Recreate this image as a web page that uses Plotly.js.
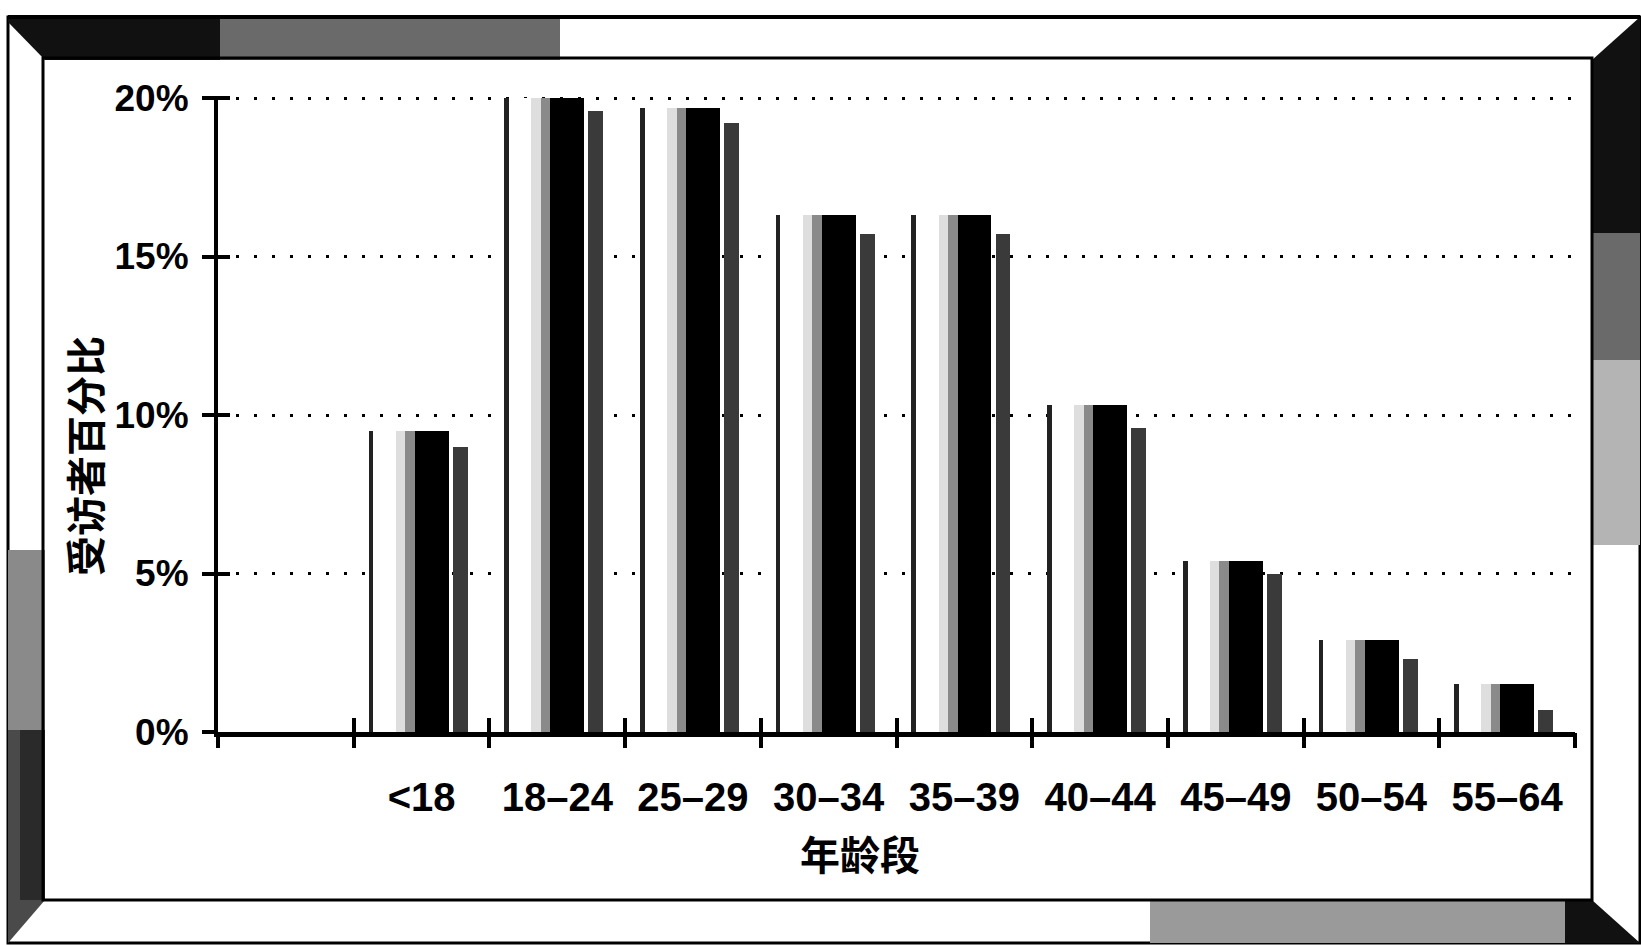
<!DOCTYPE html>
<html>
<head>
<meta charset="utf-8">
<script src="https://cdn.plot.ly/plotly-3.0.1.min.js"></script>
<style>
  html, body { margin: 0; padding: 0; background: #ffffff; }
  #chart { width: 1641px; height: 945px; }
</style>
</head>
<body>
<div id="chart"></div>
<script>
// ---- data ----
const categories = ['<18', '18–24', '25–29', '30–34', '35–39', '40–44', '45–49', '50–54', '55–64'];
const frontValues = [9.5, 20.0, 19.7, 16.3, 16.3, 10.3, 5.4, 2.9, 1.5];
const sideValues  = [9.0, 19.6, 19.2, 15.7, 15.7, 9.6, 5.0, 2.3, 0.7];
const yTickVals = [0, 5, 10, 15, 20];
const yTickText = ['0%', '5%', '10%', '15%', '20%'];
const xTitle = '年龄段';
const yTitle = '受访者百分比';

// ---- geometry ----
const W = 1641, H = 945;
const L = 218, R = 1575, T = 96, B = 732;
const yMax = 20.063;
const xIdx = categories.map((c, i) => i);
const xRange = [-1.5, categories.length - 0.5];
const boundaries = [];
for (let b = xRange[0]; b <= xRange[1] + 1e-9; b += 1) boundaries.push(b);

const px = v => (v - L) / (R - L);
const py = v => (B - v) / (B - T);

function rect(x0, y0, x1, y1, fill, lc, lw) {
  return {type: 'rect', xref: 'paper', yref: 'paper', layer: 'below',
    x0: px(x0), x1: px(x1), y0: py(y1), y1: py(y0),
    fillcolor: fill, line: {color: lc || fill, width: lw === undefined ? 0 : lw}};
}
function poly(pts, fill) {
  const d = pts.map((p, k) => (k ? 'L' : 'M') + px(p[0]).toFixed(5) + ',' + py(p[1]).toFixed(5)).join(' ') + ' Z';
  return {type: 'path', xref: 'paper', yref: 'paper', layer: 'below', path: d,
    fillcolor: fill, line: {width: 0}};
}

const shapes = [
  rect(8, 17, 1640, 943, '#ffffff', '#000000', 3),
  poly([[8, 17], [220, 17], [220, 60], [45, 60], [8, 22]], '#111111'),
  rect(220, 17, 560, 60, '#6a6a6a'),
  poly([[1592, 60], [1640, 17], [1640, 233], [1592, 233]], '#111111'),
  rect(1592, 233, 1640, 360, '#6a6a6a'),
  rect(1592, 360, 1640, 545, '#b4b4b4'),
  rect(1150, 900, 1565, 943, '#9a9a9a'),
  poly([[1565, 900], [1592, 900], [1640, 943], [1565, 943]], '#111111'),
  rect(8, 550, 45, 730, '#8a8a8a'),
  rect(20, 730, 45, 900, '#2a2a2a'),
  poly([[8, 730], [20, 730], [20, 900], [45, 900], [8, 943]], '#4a4a4a'),
  {type: 'rect', xref: 'paper', yref: 'paper', layer: 'below',
   x0: px(43), x1: px(1592), y0: py(900), y1: py(58),
   fillcolor: 'rgba(0,0,0,0)', line: {color: '#000000', width: 3}},
  {type: 'line', xref: 'paper', yref: 'paper', layer: 'below',
   x0: px(8), x1: px(1640), y0: py(17), y1: py(17), line: {color: '#000', width: 4}}
];

const tickFont = {family: 'Liberation Sans, Arial, sans-serif', size: 40, color: '#000000', weight: 'bold'};
const yFont = {family: 'Liberation Sans, Arial, sans-serif', size: 37, color: '#000000', weight: 'bold'};
const cjkFont = {family: 'Noto Sans CJK SC, sans-serif', size: 40, color: '#000000', weight: 'bold'};

function barTrace(values, offset, width, color) {
  return {type: 'bar', x: xIdx, y: values, offset: offset, width: width,
    marker: {color: color, line: {width: 0}}, hoverinfo: 'skip', showlegend: false};
}

const traces = [
  barTrace(frontValues, -0.38, 0.33, '#ffffff'),
  barTrace(frontValues, -0.19, 0.07, '#dedede'),
  barTrace(frontValues, -0.12, 0.08, '#8a8a8a'),
  barTrace(frontValues, -0.05, 0.25, '#000000'),
  barTrace(sideValues, 0.23, 0.11, '#3a3a3a'),
  barTrace(frontValues, -0.39, 0.035, '#222222'),
  {type: 'scatter', x: [], y: [], xaxis: 'x2', yaxis: 'y', showlegend: false, hoverinfo: 'skip'},
  {type: 'scatter', x: [], y: [], xaxis: 'x3', yaxis: 'y', showlegend: false, hoverinfo: 'skip'},
  {type: 'scatter', x: [], y: [], xaxis: 'x', yaxis: 'y2', showlegend: false, hoverinfo: 'skip'}
];

const layout = {
  width: W, height: H,
  margin: {l: L, r: W - R, t: T, b: H - B, pad: 0},
  paper_bgcolor: '#ffffff', plot_bgcolor: 'rgba(0,0,0,0)',
  barmode: 'overlay', bargap: 0,
  showlegend: false,
  xaxis: {
    range: xRange, tickmode: 'array', tickvals: xIdx, ticktext: categories,
    ticks: '', showgrid: false, zeroline: false,
    showline: true, linecolor: '#000000', linewidth: 5,
    tickfont: tickFont, ticklabelstandoff: 26, fixedrange: true
  },
  xaxis2: {
    overlaying: 'x', anchor: 'y', side: 'bottom', range: xRange,
    tickmode: 'array', tickvals: boundaries, ticks: 'outside', ticklen: 15, tickwidth: 4,
    tickcolor: '#000000', showticklabels: false, showgrid: false, zeroline: false, showline: false
  },
  xaxis3: {
    overlaying: 'x', anchor: 'y', side: 'bottom', range: xRange,
    tickmode: 'array', tickvals: boundaries, ticks: 'inside', ticklen: 14, tickwidth: 4,
    tickcolor: '#000000', showticklabels: false, showgrid: false, zeroline: false, showline: false
  },
  yaxis: {
    range: [0, yMax], tickmode: 'array', tickvals: yTickVals, ticktext: yTickText,
    ticks: 'outside', ticklen: 12, tickwidth: 4, tickcolor: '#000000',
    showline: true, linecolor: '#000000', linewidth: 4,
    showgrid: true, gridcolor: '#000000', gridwidth: 3, griddash: '3px,15px',
    zeroline: false, tickfont: yFont, ticklabelstandoff: 6, fixedrange: true
  },
  yaxis2: {
    overlaying: 'y', anchor: 'x', side: 'left', range: [0, yMax],
    tickmode: 'array', tickvals: yTickVals, ticks: 'inside', ticklen: 12, tickwidth: 4,
    tickcolor: '#000000', showticklabels: false, showgrid: false, zeroline: false, showline: false
  },
  annotations: [
    {text: yTitle, xref: 'paper', yref: 'paper', x: px(84), y: py(456),
     xanchor: 'center', yanchor: 'middle', textangle: -90, showarrow: false, font: cjkFont},
    {text: xTitle, xref: 'paper', yref: 'paper', x: px(860), y: py(853),
     xanchor: 'center', yanchor: 'middle', showarrow: false, font: cjkFont}
  ],
  shapes: shapes
};

Plotly.newPlot('chart', traces, layout, {displayModeBar: false, staticPlot: true});
</script>
</body>
</html>
